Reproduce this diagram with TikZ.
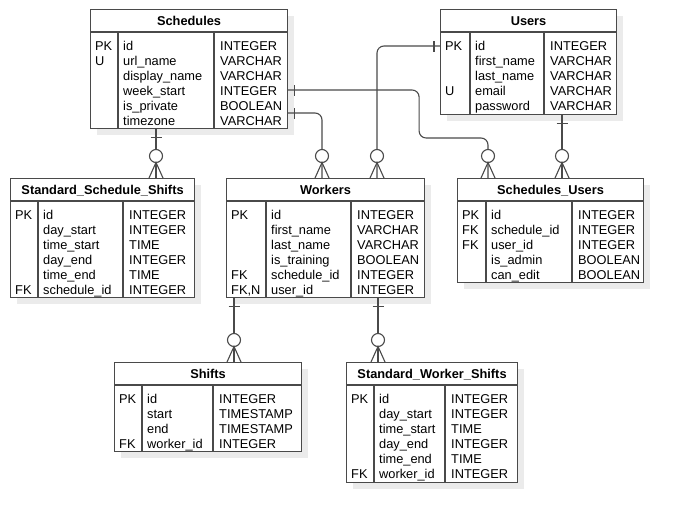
\documentclass[tikz,border=0pt]{standalone}
\usepackage{fontspec}
\setmainfont{Liberation Sans}
\usetikzlibrary{calc}
\usetikzlibrary{shadows}
\definecolor{linecol}{HTML}{4A4A4A}
\definecolor{shadowcol}{HTML}{EBEBEB}

\begin{document}
\begin{tikzpicture}[x=1pt,y=-1pt,font=\fontsize{12.8}{15}\selectfont]
		\tikzset{
			tbl/.style={draw=linecol,line width=1.1pt,fill=white,anchor=north west,inner sep=0pt,
				drop shadow={shadow xshift=6pt,shadow yshift=-6pt,fill=shadowcol,draw=none,opacity=1}},
		}
		\tikzset{
			titlenode/.style={font=\fontsize{12.8}{15}\selectfont\bfseries,anchor=base,inner sep=0pt},
			fieldnode/.style={align=left,anchor=north west,inner sep=0pt,execute at begin node=\strut},
		}
		\tikzset{
			edge/.style={color=linecol,line width=1.1pt,rounded corners=7pt},
			onebar/.pic={\draw[edge] (-5.5,0) -- (5.5,0);},
			manyend/.pic={\draw[edge,fill=white] (0,-22) circle (6.5);
				\draw[edge,sharp corners] (-7,0) -- (0,-15.5) -- (7,0);},
		}
		\newcommand{\tblgrid}[3]{
			\draw[color=linecol,line width=1.1pt] ($(#1.north west)+(0,23)$) -- ($(#1.north east)+(0,23)$);
			\draw[color=linecol,line width=1.1pt] ($(#1.north west)+(#2,23)$) -- ($(#1.south west)+(#2,0)$);
			\draw[color=linecol,line width=1.1pt] ($(#1.north west)+(#3,23)$) -- ($(#1.south west)+(#3,0)$);
		}
		
		\useasboundingbox (0,0) rectangle (684,522);
		
		% tables
		\node[tbl,minimum width=197pt,minimum height=119pt] (schedules) at (90,9) {};
		\tblgrid{schedules}{28}{124}
		\node[titlenode] (schedules-title) at ($(schedules.north)+(0,16)$) {Schedules};
		\node[fieldnode] (schedules-keys) at ($(schedules.north west)+(5,32)$) {PK\\U};
		\node[fieldnode] (schedules-names) at ($(schedules.north west)+(33,32)$) {id\\url\_name\\display\_name\\week\_start\\is\_private\\timezone};
		\node[fieldnode] (schedules-types) at ($(schedules.north west)+(130,32)$) {INTEGER\\VARCHAR\\VARCHAR\\INTEGER\\BOOLEAN\\VARCHAR};
		
		\node[tbl,minimum width=176pt,minimum height=105pt] (users) at (440,9) {};
		\tblgrid{users}{30}{104}
		\node[titlenode] (users-title) at ($(users.north)+(0,16)$) {Users};
		\node[fieldnode] (users-keys) at ($(users.north west)+(5,32)$) {PK\\\strut\\\strut\\U};
		\node[fieldnode] (users-names) at ($(users.north west)+(35,32)$) {id\\first\_name\\last\_name\\email\\password};
		\node[fieldnode] (users-types) at ($(users.north west)+(110,32)$) {INTEGER\\VARCHAR\\VARCHAR\\VARCHAR\\VARCHAR};
		
		\node[tbl,minimum width=184pt,minimum height=119pt] (sss) at (10,178) {};
		\tblgrid{sss}{28}{113}
		\node[titlenode] (sss-title) at ($(sss.north)+(0,16)$) {Standard\_Schedule\_Shifts};
		\node[fieldnode] (sss-keys) at ($(sss.north west)+(5,32)$) {PK\\\strut\\\strut\\\strut\\\strut\\FK};
		\node[fieldnode] (sss-names) at ($(sss.north west)+(33,32)$) {id\\day\_start\\time\_start\\day\_end\\time\_end\\schedule\_id};
		\node[fieldnode] (sss-types) at ($(sss.north west)+(119,32)$) {INTEGER\\INTEGER\\TIME\\INTEGER\\TIME\\INTEGER};
		
		\node[tbl,minimum width=198pt,minimum height=119pt] (workers) at (226,178) {};
		\tblgrid{workers}{40}{125}
		\node[titlenode] (workers-title) at ($(workers.north)+(0,16)$) {Workers};
		\node[fieldnode] (workers-keys) at ($(workers.north west)+(5,32)$) {PK\\\strut\\\strut\\\strut\\FK\\FK,N};
		\node[fieldnode] (workers-names) at ($(workers.north west)+(45,32)$) {id\\first\_name\\last\_name\\is\_training\\schedule\_id\\user\_id};
		\node[fieldnode] (workers-types) at ($(workers.north west)+(131,32)$) {INTEGER\\VARCHAR\\VARCHAR\\BOOLEAN\\INTEGER\\INTEGER};
		
		\node[tbl,minimum width=186pt,minimum height=104pt] (su) at (457,178) {};
		\tblgrid{su}{29}{115}
		\node[titlenode] (su-title) at ($(su.north)+(0,16)$) {Schedules\_Users};
		\node[fieldnode] (su-keys) at ($(su.north west)+(5,32)$) {PK\\FK\\FK};
		\node[fieldnode] (su-names) at ($(su.north west)+(34,32)$) {id\\schedule\_id\\user\_id\\is\_admin\\can\_edit};
		\node[fieldnode] (su-types) at ($(su.north west)+(121,32)$) {INTEGER\\INTEGER\\INTEGER\\BOOLEAN\\BOOLEAN};
		
		\node[tbl,minimum width=187pt,minimum height=89pt] (shifts) at (114,362) {};
		\tblgrid{shifts}{28}{99}
		\node[titlenode] (shifts-title) at ($(shifts.north)+(0,16)$) {Shifts};
		\node[fieldnode] (shifts-keys) at ($(shifts.north west)+(5,32)$) {PK\\\strut\\\strut\\FK};
		\node[fieldnode] (shifts-names) at ($(shifts.north west)+(33,32)$) {id\\start\\end\\worker\_id};
		\node[fieldnode] (shifts-types) at ($(shifts.north west)+(105,32)$) {INTEGER\\TIMESTAMP\\TIMESTAMP\\INTEGER};
		
		\node[tbl,minimum width=171pt,minimum height=120pt] (sws) at (346,362) {};
		\tblgrid{sws}{28}{99}
		\node[titlenode] (sws-title) at ($(sws.north)+(0,16)$) {Standard\_Worker\_Shifts};
		\node[fieldnode] (sws-keys) at ($(sws.north west)+(5,32)$) {PK\\\strut\\\strut\\\strut\\\strut\\FK};
		\node[fieldnode] (sws-names) at ($(sws.north west)+(33,32)$) {id\\day\_start\\time\_start\\day\_end\\time\_end\\worker\_id};
		\node[fieldnode] (sws-types) at ($(sws.north west)+(105,32)$) {INTEGER\\INTEGER\\TIME\\INTEGER\\TIME\\INTEGER};
		
		% relations
		\draw[edge] ($(schedules.south west)+(66,0)$) -- ($(sss.north west)+(146,0)$);
		\draw[edge] ($(schedules.north east)+(0,81)$) -- ++(131,0) -- ++(0,48) -| ($(su.north west)+(31,0)$);
		\draw[edge] ($(schedules.north east)+(0,104)$) -| ($(workers.north west)+(96,0)$);
		\draw[edge] ($(users.north west)+(0,37)$) -| ($(workers.north west)+(151,0)$);
		\draw[edge] ($(users.south west)+(122,0)$) -- ($(su.north west)+(105,0)$);
		\draw[edge] ($(workers.south west)+(8,0)$) -- ($(shifts.north west)+(120,0)$);
		\draw[edge] ($(workers.south west)+(152,0)$) -- ($(sws.north west)+(32,0)$);
		
		\pic at ($(schedules.south west)+(66,8)$) {onebar};
		\pic[rotate=90] at ($(schedules.north east)+(6,81)$) {onebar};
		\pic[rotate=90] at ($(schedules.north east)+(6,104)$) {onebar};
		\pic[rotate=90] at ($(users.north west)+(-6,37)$) {onebar};
		\pic at ($(users.south west)+(122,8)$) {onebar};
		\pic at ($(workers.south west)+(8,8)$) {onebar};
		\pic at ($(workers.south west)+(152,8)$) {onebar};
		
		\pic at ($(sss.north west)+(146,0)$) {manyend};
		\pic at ($(su.north west)+(31,0)$) {manyend};
		\pic at ($(workers.north west)+(96,0)$) {manyend};
		\pic at ($(workers.north west)+(151,0)$) {manyend};
		\pic at ($(su.north west)+(105,0)$) {manyend};
		\pic at ($(shifts.north west)+(120,0)$) {manyend};
		\pic at ($(sws.north west)+(32,0)$) {manyend};
	\end{tikzpicture}
\end{document}
